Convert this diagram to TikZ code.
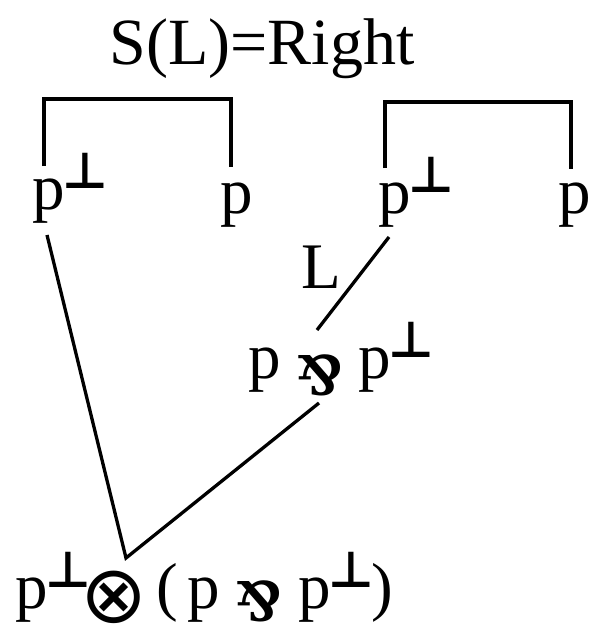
\documentclass[tikz,border=0pt]{standalone}
\usepackage{fontspec}
\usepackage{graphicx}
\setmainfont{Liberation Serif}
\newfontfamily\djv{DejaVu Sans}
\newfontfamily\djvserif{DejaVu Serif}
\newcommand{\pperp}{\raisebox{21pt}{\kern-2pt\djv\bfseries\fontsize{50}{52}\selectfont ⊥}}
\newcommand{\parrsym}{\scalebox{0.95}[1.05]{\rotatebox[origin=c]{180}{\djvserif\bfseries\fontsize{52}{52}\selectfont\&}}}
\tikzset{
  txt/.style={inner sep=0pt, outer sep=0pt, font=\fontsize{65}{70}\selectfont},
  bracket/.style={line width=4pt, line join=miter},
  link/.style={line width=3.3pt}
}
\begin{document}
\begin{tikzpicture}[x=1pt,y=-1pt]
\useasboundingbox (0,0) rectangle (591,626);
% texts
\node[txt, anchor=base, font=\fontsize{66}{70}\selectfont] (title) at (262,65) {S(L)=Right};
\node[txt, anchor=base west] (tl) at (32,209) {p\pperp};
\node[txt, anchor=base west] (tr) at (220,213) {p};
\node[txt, anchor=base west] (rl) at (378,213) {p\pperp};
\node[txt, anchor=base west] (rr) at (558,213) {p};
\node[txt, anchor=base west] (lab) at (301,288) {L};
\node[txt, anchor=base west] (m1) at (248,378) {p};
\node[txt] (m2) at (320,375) {\parrsym};
\node[txt, anchor=base west] (m3) at (358,378) {p\pperp};
\node[txt, anchor=base west] (b1) at (15,608) {p\pperp};
\node[txt] (b2) at (114,597) {\djv\fontsize{80}{80}\selectfont ⊗};
\node[txt, anchor=base west] (b3) at (156,608) {(};
\node[txt, anchor=base west] (b4) at (187,608) {p};
\node[txt] (b5) at (259,601) {\parrsym};
\node[txt, anchor=base west] (b6) at (298,608) {p\pperp};
\node[txt, anchor=base west] (b7) at (371,608) {)};
% connector end points
\coordinate (lb1) at (44,166);
\coordinate (lb2) at (44,99);
\coordinate (lb3) at (231,99);
\coordinate (lb4) at (231,167);
\coordinate (rb1) at (385,168);
\coordinate (rb2) at (385,102);
\coordinate (rb3) at (571,102);
\coordinate (rb4) at (571,169);
\coordinate (ltop) at (47,235);
\coordinate (vtx) at (126,558);
\coordinate (rtop) at (389,237);
\coordinate (midtop) at (317,330);
\coordinate (midbot) at (319,403);
% brackets
\draw[bracket] (lb1) -- (lb2) -- (lb3) -- (lb4);
\draw[bracket] (rb1) -- (rb2) -- (rb3) -- (rb4);
% links
\draw[link] (rtop) -- (midtop);
\draw[link] (ltop) -- (vtx) -- (midbot);
\end{tikzpicture}
\end{document}
